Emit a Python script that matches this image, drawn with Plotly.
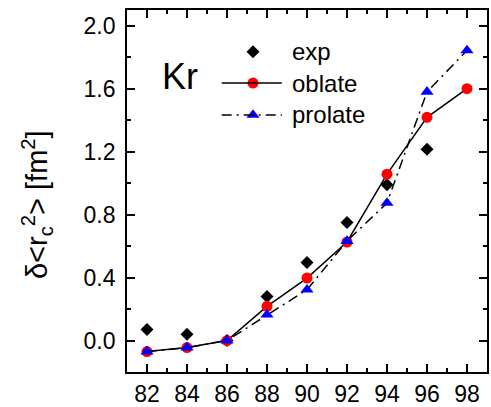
import plotly.graph_objects as go

mass = [82, 84, 86, 88, 90, 92, 94, 96, 98]
exp_mass = [82, 84, 86, 88, 90, 92, 94, 96]
exp_vals = [0.07, 0.04, 0.0, 0.28, 0.495, 0.75, 0.99, 1.215]
oblate_vals = [-0.07, -0.045, 0.0, 0.217, 0.397, 0.626, 1.057, 1.418, 1.60]
prolate_vals = [-0.07, -0.045, 0.0, 0.164, 0.323, 0.632, 0.874, 1.58, 1.843]
series_names = ["exp", "oblate", "prolate"]

FONT = "Liberation Sans, Arial, sans-serif"
PROLATE_DASH = "10px,5px,2px,5px"

styles = {
    "exp": dict(marker=dict(symbol="diamond", size=10, color="black"), line=None),
    "oblate": dict(marker=dict(symbol="circle", size=11, color="red"),
                   line=dict(color="black", width=1.5)),
    "prolate": dict(marker=dict(symbol="triangle-up", size=11.5, color="blue"),
                    line=dict(color="black", width=1.5, dash=PROLATE_DASH)),
}

fig = go.Figure()
fig.add_trace(go.Scatter(x=exp_mass, y=exp_vals, mode="markers", name="exp",
                         marker=styles["exp"]["marker"], showlegend=False))
fig.add_trace(go.Scatter(x=mass, y=oblate_vals, mode="lines+markers", name="oblate",
                         line=styles["oblate"]["line"], marker=styles["oblate"]["marker"],
                         showlegend=False))
fig.add_trace(go.Scatter(x=mass, y=prolate_vals, mode="lines+markers", name="prolate",
                         line=styles["prolate"]["line"], marker=styles["prolate"]["marker"],
                         showlegend=False))

# hand-drawn legend (inside the plot area, in paper-like overlay coordinates)
leg_rows = [0.885, 0.798, 0.710]
leg_x0, leg_xm, leg_x1, leg_xt = 0.263, 0.350, 0.430, 0.453
for name, ry in zip(series_names, leg_rows):
    st = styles[name]
    if st["line"] is not None:
        fig.add_shape(type="line", xref="paper", yref="paper", x0=leg_x0, x1=leg_x1,
                      y0=ry, y1=ry, layer="above",
                      line=dict(color="black", width=1.5, dash=st["line"].get("dash", "solid")))
    fig.add_trace(go.Scatter(x=[leg_xm], y=[ry], mode="markers", marker=st["marker"],
                             xaxis="x2", yaxis="y2", showlegend=False, hoverinfo="skip",
                             cliponaxis=False))
    fig.add_annotation(x=leg_xt, y=ry, xref="paper", yref="paper", text=name,
                       showarrow=False, xanchor="left", yanchor="middle",
                       font=dict(family=FONT, size=24, color="black"))

axis_common = dict(showline=True, linecolor="black", linewidth=1.8, mirror="ticks",
                   ticks="inside", tickcolor="black", tickwidth=1.5, ticklen=8,
                   showgrid=False, zeroline=False, automargin=False,
                   tickfont=dict(family=FONT, size=23, color="black"))

fig.update_xaxes(range=[81, 99], tick0=82, dtick=2, ticklabelstandoff=0,
                 minor=dict(ticks="inside", dtick=1, tick0=81, ticklen=4,
                            tickcolor="black", tickwidth=1.5, showgrid=False),
                 **axis_common)
fig.update_yaxes(range=[-0.2, 2.1], tick0=0, dtick=0.4, tickformat=".1f",
                 ticklabelstandoff=5,
                 minor=dict(ticks="inside", dtick=0.2, tick0=0, ticklen=4,
                            tickcolor="black", tickwidth=1.5, showgrid=False),
                 **axis_common)

fig.add_annotation(x=-0.25, y=0.461, xref="paper", yref="paper",
                   text="δ&lt;r<sub>c</sub><sup>2</sup>&gt; [fm<sup>2</sup>]",
                   textangle=-90, showarrow=False, xanchor="center", yanchor="middle",
                   font=dict(family=FONT, size=29, color="black"))

fig.add_annotation(x=0.146, y=0.815, xref="paper", yref="paper", text="Kr",
                   showarrow=False, xanchor="center", yanchor="middle",
                   font=dict(family=FONT, size=36, color="black"))

fig.update_layout(width=491, height=407,
                  margin=dict(l=127, r=4, t=10, b=35),
                  paper_bgcolor="white", plot_bgcolor="white",
                  showlegend=False,
                  xaxis2=dict(overlaying="x", range=[0, 1], visible=False),
                  yaxis2=dict(overlaying="y", range=[0, 1], visible=False))

fig.write_html("out.html")
